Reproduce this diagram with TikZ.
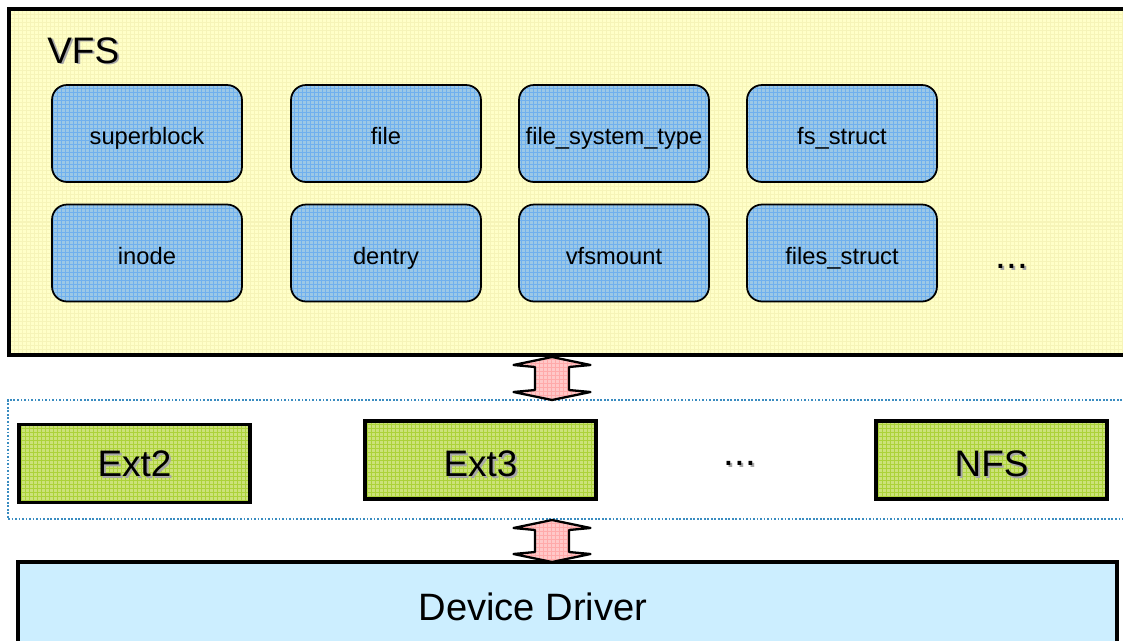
\documentclass[tikz,border=0pt]{standalone}
\usepackage{fontspec}
\setmainfont{Liberation Sans}
\usetikzlibrary{calc}

\definecolor{vfsfill}{HTML}{FFFFC8}
\definecolor{vfsgrid}{HTML}{F6F4B8}
\definecolor{objfill}{HTML}{9CC8E6}
\definecolor{objgrid}{HTML}{70B0EE}
\definecolor{fsfill}{HTML}{CCE27A}
\definecolor{fsgrid}{HTML}{ACD23A}
\definecolor{arrfill}{HTML}{FFC8C8}
\definecolor{arrgrid}{HTML}{FFAAAA}
\definecolor{drvfill}{HTML}{CCEEFF}
\definecolor{dotblue}{HTML}{3A8CC0}

\newcommand\shadowtxt[1]{\makebox[0pt][l]{\kern1.1pt\raisebox{-1.1pt}[0pt][0pt]{\color{black!35}#1}}#1}

% block arrow between two layers, tips at #1 (top) and #2 (bottom)
\newcommand\layerlink[2]{%
  \path[linkarrow] let \p1=(#1), \p2=(#2) in
    (\p1) -- (\x1+0.77cm,\y1-0.16cm) -- (\x1+0.34cm,\y1-0.2cm)
    -- (\x2+0.34cm,\y2+0.2cm) -- (\x2+0.77cm,\y2+0.16cm) -- (\p2)
    -- (\x2-0.77cm,\y2+0.16cm) -- (\x2-0.34cm,\y2+0.2cm)
    -- (\x1-0.34cm,\y1-0.2cm) -- (\x1-0.77cm,\y1-0.16cm) -- cycle;}

\tikzset{
  gridfill/.style 2 args={fill=#1, path picture={
    \draw[#2, line width=0.57pt] (path picture bounding box.south west)
      grid[step=0.08cm] (path picture bounding box.north east);}},
  layer/.style={draw, line width=2.3pt, inner sep=0pt},
  obj/.style={draw, line width=1pt, rounded corners=0.3cm, gridfill={objfill}{objgrid},
    minimum width=3.8cm, minimum height=1.94cm, text height=13pt, text depth=0pt,
    font=\fontsize{13.5}{16}\selectfont},
  fsbox/.style={draw, line width=2pt, gridfill={fsfill}{fsgrid},
    minimum width=4.62cm, minimum height=1.56cm, text height=18.4pt, text depth=0pt,
    font=\fontsize{21}{25}\selectfont},
  dots/.style={font=\fontsize{22}{26}\selectfont},
  linkarrow/.style={draw, line width=1.3pt, line join=round, gridfill={arrfill}{arrgrid}},
}

\begin{document}
\begin{tikzpicture}[x=0.02cm,y=-0.02cm]
\useasboundingbox (0,0) rectangle (1123,640);
\clip (0,0) rectangle (1123,640);

\node[layer, gridfill={vfsfill}{vfsgrid}, minimum width=22.62cm, minimum height=6.92cm] (vfs) at (574.5,182) {};
\node[anchor=base west, inner sep=0pt, font=\fontsize{21}{25}\selectfont] (vfstitle) at (47,63) {\shadowtxt{VFS}};

\node[obj] (superblock) at (147,133.5) {superblock};
\node[obj] (file) at (386,133.5) {file};
\node[obj] (fstype) at (614,133.5) {file\_system\_type};
\node[obj] (fsstruct) at (842,133.5) {fs\_struct};
\node[obj] (inode) at (147,253) {inode};
\node[obj] (dentry) at (386,253) {dentry};
\node[obj] (vfsmount) at (614,253) {vfsmount};
\node[obj] (filesstruct) at (842,253) {files\_struct};
\node[dots] (moreobj) at (1012,266) {\shadowtxt{...}};

\node[draw=dotblue, densely dotted, line width=1pt, inner sep=0pt,
  minimum width=22.64cm, minimum height=2.38cm] (fslayer) at (574,459.5) {};
\node[fsbox, text height=15pt] (ext2) at (134.5,463.5) {\shadowtxt{Ext2}};
\node[fsbox] (ext3) at (480.5,460) {\shadowtxt{Ext3}};
\node[dots] (morefs) at (740,463) {\shadowtxt{...}};
\node[fsbox] (nfs) at (991.5,460) {\shadowtxt{NFS}};

\node[layer, fill=drvfill, minimum width=21.98cm, minimum height=2.4cm] (driver) at (567.5,622) {};
\node[font=\fontsize{21.7}{26}\selectfont] (drvlabel) at (533,607) {Device Driver};

\coordinate (up1) at (552,357);
\coordinate (dn1) at (552,400);
\coordinate (up2) at (552,520);
\coordinate (dn2) at (552,562);
\layerlink{up1}{dn1}
\layerlink{up2}{dn2}
\end{tikzpicture}
\end{document}
